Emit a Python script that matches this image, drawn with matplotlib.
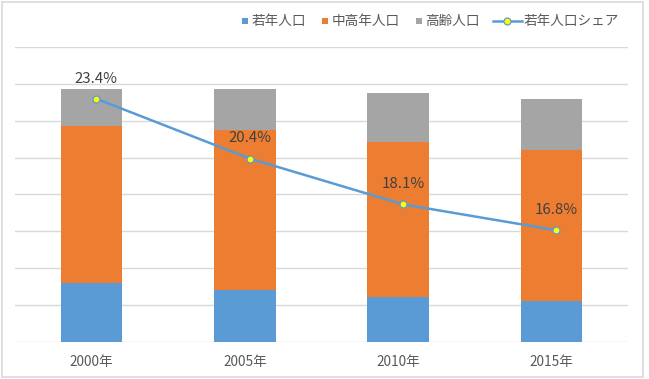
import matplotlib
matplotlib.use("Agg")
import matplotlib.pyplot as plt
from matplotlib.patches import Rectangle
from matplotlib.lines import Line2D
from matplotlib.patches import Patch
from matplotlib.legend_handler import HandlerPatch
from matplotlib.transforms import offset_copy
import numpy as np

plt.rcParams['font.family'] = ['Noto Sans CJK JP', 'DejaVu Sans']

# ---- data ----
years = ["2000年", "2005年", "2010年", "2015年"]
young = [1600, 1400, 1220, 1100]        # 若年人口
middle = [4260, 4360, 4200, 4110]       # 中高年人口
elderly = [990, 1110, 1320, 1370]       # 高齢人口
young_share = [23.4, 20.4, 18.1, 16.8]  # 若年人口シェア (%)

labels = ["若年人口", "中高年人口", "高齢人口", "若年人口シェア"]
c_blue, c_orange, c_gray = "#5b9bd5", "#ed7d31", "#a5a5a5"
grid_c = "#d9d9d9"

W, H = 649, 379
fig = plt.figure(figsize=(W / 100, H / 100), dpi=100)

ax = fig.add_axes([15 / W, 1 - 341.7 / H, 613 / W, (341.7 - 47) / H])
x = np.arange(len(years))
bw = 0.4
y = np.array(young); m = np.array(middle); e = np.array(elderly)
ax.bar(x, y, bw, color=c_blue, zorder=3)
ax.bar(x, m, bw, bottom=y, color=c_orange, zorder=3)
ax.bar(x, e, bw, bottom=y + m, color=c_gray, zorder=3)

ax.set_xlim(-0.5, len(years) - 0.5)
ax.set_ylim(0, 8000)
ax.set_yticks(np.arange(0, 8001, 1000))
ax.yaxis.grid(True, color=grid_c, linewidth=1, zorder=0)
ax.set_axisbelow(True)
ax.tick_params(axis='y', length=0, labelleft=False)
ax.set_xticks(x)
ax.set_xticklabels(years, fontsize=9.8, color="#595959")
ax.tick_params(axis='x', length=0, pad=9.5)
for s in ax.spines.values():
    s.set_visible(False)

ax2 = ax.twinx()
ax2.set_ylim(11.2, 26.0)
ax2.set_yticks([])
for s in ax2.spines.values():
    s.set_visible(False)
trans = offset_copy(ax2.transData, fig=fig, x=4.7, y=0, units='dots')
ax2.plot(x, young_share, color=c_blue, linewidth=1.8, marker='o',
         markersize=5, markerfacecolor="#ffff00", markeredgecolor=c_blue,
         markeredgewidth=0.9, transform=trans, zorder=5)
for xi, v in zip(x, young_share):
    ax2.annotate(f"{v:.1f}%", (xi, v), xycoords=trans, xytext=(0, 14.5),
                 textcoords='offset points', ha='center', va='center',
                 fontsize=10.8, color="#404040", zorder=6)


class SquareHandler(HandlerPatch):
    def create_artists(self, legend, orig_handle, xdescent, ydescent,
                       width, height, fontsize, trans):
        s = 6 * 72 / 100.0
        r = Rectangle((width - s - 1.5 - xdescent, (height - s) / 2 - ydescent),
                      s, s, facecolor=orig_handle.get_facecolor(),
                      edgecolor='none', transform=trans)
        return [r]


bar_handles = [Patch(color=c_blue), Patch(color=c_orange), Patch(color=c_gray)]
leg1 = fig.legend(bar_handles, labels[:3], loc='center right',
                  bbox_to_anchor=(480 / W, 1 - 21.5 / H), ncol=3,
                  frameon=False, fontsize=9.8, handlelength=0.75,
                  handletextpad=0.1, columnspacing=1.05, borderpad=0,
                  borderaxespad=0, handler_map={Patch: SquareHandler()})
line_handle = Line2D([], [], color=c_blue, linewidth=1.8, marker='o',
                     markersize=5, markerfacecolor="#ffff00",
                     markeredgecolor=c_blue, markeredgewidth=0.9)
leg2 = fig.legend([line_handle], labels[3:], loc='center right',
                  bbox_to_anchor=(619 / W, 1 - 21.5 / H), frameon=False,
                  fontsize=9.8, handlelength=2.1, handletextpad=0.15,
                  borderpad=0, borderaxespad=0)
for lg in (leg1, leg2):
    for t in lg.get_texts():
        t.set_color("#595959")

fig.patches.append(Rectangle((1.5 / W, 2.5 / H), 641.5 / W, 375 / H,
                             transform=fig.transFigure, fill=False,
                             edgecolor=grid_c, linewidth=1.2))

fig.savefig("out.png", dpi=100)
